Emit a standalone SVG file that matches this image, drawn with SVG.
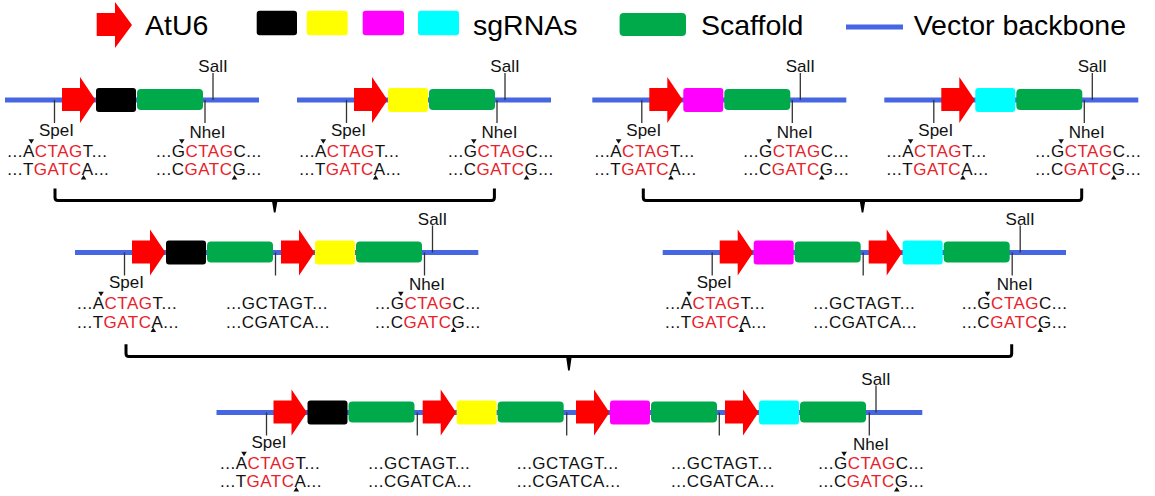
<svg xmlns="http://www.w3.org/2000/svg" width="1155" height="496" viewBox="0 0 1155 496">
<style>
.bb{stroke:#4766e4;stroke-width:5;fill:none}
.tk{stroke:#333;stroke-width:1.3;fill:none}
.atu6{fill:#ff0000}
.k{fill:#000}.y{fill:#ffff00}.m{fill:#ff00ff}.c{fill:#00ffff}
.scaf{fill:#00a94a}
text{font-family:"Liberation Sans",Arial,Helvetica,sans-serif;fill:#111}
.lbl{font-size:17px;text-anchor:middle}
.seq{font-size:17px;letter-spacing:0.5px}
.r{fill:#e8222b}
.cut{fill:#111}
.leg{font-size:28.5px;fill:#000}
.br{fill:none;stroke:#000;stroke-width:3}
.brt{fill:#000}
</style>

<g id="legend">
<polygon class="atu6" points="96.7,13 115,13 115,2 132,25 115,48 115,36 96.7,36"/>
<text class="leg" x="145" y="35">AtU6</text>
<rect class="k" x="256.7" y="10.7" width="40.3" height="24.5" rx="3"/>
<rect class="y" x="306.7" y="10.7" width="41" height="24.5" rx="3"/>
<rect class="m" x="362.7" y="10.7" width="41.3" height="24.5" rx="3"/>
<rect class="c" x="418" y="10.7" width="41" height="24.5" rx="3"/>
<text class="leg" x="473" y="35">sgRNAs</text>
<rect class="scaf" x="619.6" y="13" width="66.4" height="23" rx="4"/>
<text class="leg" x="701" y="35">Scaffold</text>
<path class="bb" d="M846,27H903"/>
<text class="leg" x="913.7" y="35">Vector backbone</text>
</g>

<!-- Row 1 -->
<g id="u1" transform="translate(5,100)">
<path class="bb" d="M0,0H254"/>
<path class="tk" d="M49.5,0V23M200,0V23M208,-27V0"/>
<polygon class="atu6" points="57,-12 75,-12 75,-23 90.5,0 75,23 75,11 57,11"/>
<rect class="k" x="91" y="-12" width="40" height="24" rx="3"/>
<rect class="scaf" x="132" y="-11" width="66" height="21" rx="4"/>
<text class="lbl" x="208" y="-28">SalI</text>
<text class="lbl" x="51.5" y="35.5">SpeI</text>
<text class="lbl" x="202.5" y="37.5">NheI</text>
<g transform="translate(2.3,0)">
<text class="seq" y="56.5">...A<tspan class="r">CTAG</tspan>T...</text>
<text class="seq" y="75">...T<tspan class="r">GATC</tspan>A...</text>
<path class="cut" d="M21.2,39.3h5.6l-2.8,4.5zM73.5,79.5h5.6l-2.8,-4.5z"/>
</g>
<g transform="translate(151,0)">
<text class="seq" y="56.5">...G<tspan class="r">CTAG</tspan>C...</text>
<text class="seq" y="75">...C<tspan class="r">GATC</tspan>G...</text>
<path class="cut" d="M23,39.3h5.6l-2.8,4.5zM75.7,79.5h5.6l-2.8,-4.5z"/>
</g>
</g>

<g id="u2" transform="translate(297,100)">
<path class="bb" d="M0,0H254"/>
<path class="tk" d="M49.5,0V23M200,0V23M208,-27V0"/>
<polygon class="atu6" points="57,-12 75,-12 75,-23 90.5,0 75,23 75,11 57,11"/>
<rect class="y" x="91" y="-12" width="40" height="24" rx="3"/>
<rect class="scaf" x="132" y="-11" width="66" height="21" rx="4"/>
<text class="lbl" x="208" y="-28">SalI</text>
<text class="lbl" x="51.5" y="35.5">SpeI</text>
<text class="lbl" x="202.5" y="37.5">NheI</text>
<g transform="translate(2.3,0)">
<text class="seq" y="56.5">...A<tspan class="r">CTAG</tspan>T...</text>
<text class="seq" y="75">...T<tspan class="r">GATC</tspan>A...</text>
<path class="cut" d="M21.2,39.3h5.6l-2.8,4.5zM73.5,79.5h5.6l-2.8,-4.5z"/>
</g>
<g transform="translate(151,0)">
<text class="seq" y="56.5">...G<tspan class="r">CTAG</tspan>C...</text>
<text class="seq" y="75">...C<tspan class="r">GATC</tspan>G...</text>
<path class="cut" d="M23,39.3h5.6l-2.8,4.5zM75.7,79.5h5.6l-2.8,-4.5z"/>
</g>
</g>

<g id="u3" transform="translate(592.3,100)">
<path class="bb" d="M0,0H254"/>
<path class="tk" d="M49.5,0V23M200,0V23M208,-27V0"/>
<polygon class="atu6" points="57,-12 75,-12 75,-23 90.5,0 75,23 75,11 57,11"/>
<rect class="m" x="91" y="-12" width="40" height="24" rx="3"/>
<rect class="scaf" x="132" y="-11" width="66" height="21" rx="4"/>
<text class="lbl" x="208" y="-28">SalI</text>
<text class="lbl" x="51.5" y="35.5">SpeI</text>
<text class="lbl" x="202.5" y="37.5">NheI</text>
<g transform="translate(2.3,0)">
<text class="seq" y="56.5">...A<tspan class="r">CTAG</tspan>T...</text>
<text class="seq" y="75">...T<tspan class="r">GATC</tspan>A...</text>
<path class="cut" d="M21.2,39.3h5.6l-2.8,4.5zM73.5,79.5h5.6l-2.8,-4.5z"/>
</g>
<g transform="translate(151,0)">
<text class="seq" y="56.5">...G<tspan class="r">CTAG</tspan>C...</text>
<text class="seq" y="75">...C<tspan class="r">GATC</tspan>G...</text>
<path class="cut" d="M23,39.3h5.6l-2.8,4.5zM75.7,79.5h5.6l-2.8,-4.5z"/>
</g>
</g>

<g id="u4" transform="translate(884.3,100)">
<path class="bb" d="M0,0H254"/>
<path class="tk" d="M49.5,0V23M200,0V23M208,-27V0"/>
<polygon class="atu6" points="57,-12 75,-12 75,-23 90.5,0 75,23 75,11 57,11"/>
<rect class="c" x="91" y="-12" width="40" height="24" rx="3"/>
<rect class="scaf" x="132" y="-11" width="66" height="21" rx="4"/>
<text class="lbl" x="208" y="-28">SalI</text>
<text class="lbl" x="51.5" y="35.5">SpeI</text>
<text class="lbl" x="202.5" y="37.5">NheI</text>
<g transform="translate(2.3,0)">
<text class="seq" y="56.5">...A<tspan class="r">CTAG</tspan>T...</text>
<text class="seq" y="75">...T<tspan class="r">GATC</tspan>A...</text>
<path class="cut" d="M21.2,39.3h5.6l-2.8,4.5zM73.5,79.5h5.6l-2.8,-4.5z"/>
</g>
<g transform="translate(151,0)">
<text class="seq" y="56.5">...G<tspan class="r">CTAG</tspan>C...</text>
<text class="seq" y="75">...C<tspan class="r">GATC</tspan>G...</text>
<path class="cut" d="M23,39.3h5.6l-2.8,4.5zM75.7,79.5h5.6l-2.8,-4.5z"/>
</g>
</g>

<!-- Row 2 -->
<g id="u12" transform="translate(75,252.5)">
<path class="bb" d="M0,0H403.3"/>
<path class="tk" d="M49.5,0V23M200.5,0V23M349.5,0V23M357.5,-27V0"/>
<polygon class="atu6" points="57,-12 75,-12 75,-23 90.5,0 75,23 75,11 57,11"/>
<rect class="k" x="91" y="-12" width="40" height="24" rx="3"/>
<rect class="scaf" x="132" y="-11" width="66" height="21" rx="4"/>
<g transform="translate(149,0)">
<polygon class="atu6" points="57,-12 75,-12 75,-23 90.5,0 75,23 75,11 57,11"/>
<rect class="y" x="91" y="-12" width="40" height="24" rx="3"/>
<rect class="scaf" x="132" y="-11" width="66" height="21" rx="4"/>
</g>
<text class="lbl" x="357.5" y="-28">SalI</text>
<text class="lbl" x="51.5" y="35.5">SpeI</text>
<text class="lbl" x="352" y="37.5">NheI</text>
<g transform="translate(2,0)">
<text class="seq" y="56.5">...A<tspan class="r">CTAG</tspan>T...</text>
<text class="seq" y="75">...T<tspan class="r">GATC</tspan>A...</text>
<path class="cut" d="M21.2,39.3h5.6l-2.8,4.5zM73.5,79.5h5.6l-2.8,-4.5z"/>
</g>
<g transform="translate(151,0)">
<text class="seq" y="56.5">...GCTAGT...</text>
<text class="seq" y="75">...CGATCA...</text>
</g>
<g transform="translate(300,0)">
<text class="seq" y="56.5">...G<tspan class="r">CTAG</tspan>C...</text>
<text class="seq" y="75">...C<tspan class="r">GATC</tspan>G...</text>
<path class="cut" d="M23,39.3h5.6l-2.8,4.5zM75.7,79.5h5.6l-2.8,-4.5z"/>
</g>
</g>

<g id="u34" transform="translate(662.7,252.5)">
<path class="bb" d="M0,0H403.3"/>
<path class="tk" d="M49.5,0V23M200.5,0V23M349.5,0V23M357.5,-27V0"/>
<polygon class="atu6" points="57,-12 75,-12 75,-23 90.5,0 75,23 75,11 57,11"/>
<rect class="m" x="91" y="-12" width="40" height="24" rx="3"/>
<rect class="scaf" x="132" y="-11" width="66" height="21" rx="4"/>
<g transform="translate(149,0)">
<polygon class="atu6" points="57,-12 75,-12 75,-23 90.5,0 75,23 75,11 57,11"/>
<rect class="c" x="91" y="-12" width="40" height="24" rx="3"/>
<rect class="scaf" x="132" y="-11" width="66" height="21" rx="4"/>
</g>
<text class="lbl" x="357.5" y="-28">SalI</text>
<text class="lbl" x="51.5" y="35.5">SpeI</text>
<text class="lbl" x="352" y="37.5">NheI</text>
<g transform="translate(2.3,0)">
<text class="seq" y="56.5">...A<tspan class="r">CTAG</tspan>T...</text>
<text class="seq" y="75">...T<tspan class="r">GATC</tspan>A...</text>
<path class="cut" d="M21.2,39.3h5.6l-2.8,4.5zM73.5,79.5h5.6l-2.8,-4.5z"/>
</g>
<g transform="translate(150.6,0)">
<text class="seq" y="56.5">...GCTAGT...</text>
<text class="seq" y="75">...CGATCA...</text>
</g>
<g transform="translate(299,0)">
<text class="seq" y="56.5">...G<tspan class="r">CTAG</tspan>C...</text>
<text class="seq" y="75">...C<tspan class="r">GATC</tspan>G...</text>
<path class="cut" d="M23,39.3h5.6l-2.8,4.5zM75.7,79.5h5.6l-2.8,-4.5z"/>
</g>
</g>

<!-- Row 3 -->
<g id="u1234" transform="translate(216.5,412.5)">
<path class="bb" d="M0,0H705.8"/>
<path class="tk" d="M50,0V23M200.8,0V23M350.2,0V23M502.8,0V23M652.8,0V23M659.5,-27V0"/>
<polygon class="atu6" points="57,-12 75,-12 75,-23 90.5,0 75,23 75,11 57,11"/>
<rect class="k" x="91" y="-12" width="40" height="24" rx="3"/>
<rect class="scaf" x="132" y="-11" width="66" height="21" rx="4"/>
<g transform="translate(149.2,0)">
<polygon class="atu6" points="57,-12 75,-12 75,-23 90.5,0 75,23 75,11 57,11"/>
<rect class="y" x="91" y="-12" width="40" height="24" rx="3"/>
<rect class="scaf" x="132" y="-11" width="66" height="21" rx="4"/>
</g>
<g transform="translate(302.5,0)">
<polygon class="atu6" points="57,-12 75,-12 75,-23 90.5,0 75,23 75,11 57,11"/>
<rect class="m" x="91" y="-12" width="40" height="24" rx="3"/>
<rect class="scaf" x="132" y="-11" width="66" height="21" rx="4"/>
</g>
<g transform="translate(451.5,0)">
<polygon class="atu6" points="57,-12 75,-12 75,-23 90.5,0 75,23 75,11 57,11"/>
<rect class="c" x="91" y="-12" width="40" height="24" rx="3"/>
<rect class="scaf" x="132" y="-11" width="66" height="21" rx="4"/>
</g>
<text class="lbl" x="659.5" y="-28">SalI</text>
<text class="lbl" x="52.5" y="35.5">SpeI</text>
<text class="lbl" x="654.5" y="37.5">NheI</text>
<g transform="translate(3.5,0)">
<text class="seq" y="56">...A<tspan class="r">CTAG</tspan>T...</text>
<text class="seq" y="74.5">...T<tspan class="r">GATC</tspan>A...</text>
<path class="cut" d="M21.2,39.3h5.6l-2.8,4.5zM73.5,79h5.6l-2.8,-4.5z"/>
</g>
<g transform="translate(151.8,0)">
<text class="seq" y="56">...GCTAGT...</text>
<text class="seq" y="74.5">...CGATCA...</text>
</g>
<g transform="translate(300.2,0)">
<text class="seq" y="56">...GCTAGT...</text>
<text class="seq" y="74.5">...CGATCA...</text>
</g>
<g transform="translate(454.5,0)">
<text class="seq" y="56">...GCTAGT...</text>
<text class="seq" y="74.5">...CGATCA...</text>
</g>
<g transform="translate(601.8,0)">
<text class="seq" y="56">...G<tspan class="r">CTAG</tspan>C...</text>
<text class="seq" y="74.5">...C<tspan class="r">GATC</tspan>G...</text>
<path class="cut" d="M23,39.3h5.6l-2.8,4.5zM75.7,79h5.6l-2.8,-4.5z"/>
</g>
</g>

<g id="connectors">
<path class="br" d="M55,188.5V197.5Q55,200.5 58,200.5H491.4Q494.4,200.5 494.4,197.5V188.5"/>
<polygon class="brt" points="271.7,199.5 277.7,199.5 275.5,212.5 273.9,212.5"/>
<path class="br" d="M643.3,188.5V197.5Q643.3,200.5 646.3,200.5H1078.7Q1081.7,200.5 1081.7,197.5V188.5"/>
<polygon class="brt" points="859.5,199.5 865.5,199.5 863.3,212.5 861.7,212.5"/>
<path class="br" d="M126,344.3V353.5Q126,356.5 129,356.5H1008.7Q1011.7,356.5 1011.7,353.5V344.3"/>
<polygon class="brt" points="565.9,355.5 571.9,355.5 569.7,370.5 568.1,370.5"/>
</g>
</svg>
